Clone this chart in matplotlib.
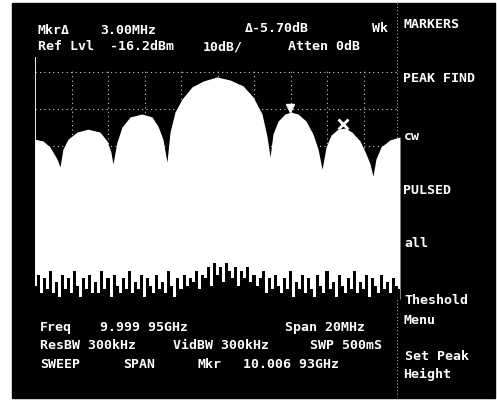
import numpy as np
import matplotlib
matplotlib.use('Agg')
import matplotlib.pyplot as plt
from matplotlib.patches import Rectangle

# Trace envelope: offset from centre (MHz) and level (dBm)
env_mhz = [-10.0, -9.56, -9.18, -8.79, -8.63,
           -8.47, -8.19, -7.70, -7.10, -6.44, -6.05, -5.84, -5.73,
           -5.51, -5.23, -4.79, -4.14, -3.59, -3.26, -2.99, -2.77,
           -2.60, -2.33, -1.95, -1.40, -0.79, -0.03, 0.68, 1.40, 1.95, 2.44, 2.71, 2.88,
           3.04, 3.32, 3.70, 4.03, 4.41, 4.85, 5.23, 5.51, 5.73,
           5.95, 6.22, 6.60, 6.99, 7.37, 7.81, 8.14, 8.36, 8.52,
           8.68, 8.96, 9.45, 10.0]
env_db = [-34.4, -34.9, -36.5, -39.8, -41.9,
          -37.1, -34.4, -32.5, -31.7, -32.5, -34.9, -37.9, -41.1,
          -35.2, -31.1, -28.4, -27.6, -28.4, -30.9, -34.4, -40.6,
          -32.5, -27.1, -23.6, -20.3, -18.7, -17.6, -18.4, -20.0, -23.0, -27.6, -33.6, -39.2,
          -33.0, -29.5, -27.6, -27.1, -27.6, -29.5, -33.0, -37.1, -42.5,
          -36.5, -33.3, -31.7, -31.4, -32.5, -34.9, -38.4, -41.1, -44.4,
          -39.8, -36.5, -34.6, -33.8]

# noise floor (bottom edge of the trace), one reading every 1/6 MHz
noise_db = [-74, -71, -76, -72, -75, -70, -76, -73, -77, -71,
            -75, -72, -76, -70, -74, -77, -72, -75, -71, -76,
            -73, -76, -70, -75, -72, -77, -71, -74, -76, -72,
            -75, -70, -76, -73, -75, -71, -77, -72, -74, -76,
            -71, -75, -73, -76, -70, -74, -77, -72, -75, -71,
            -74, -72, -73, -70, -75, -71, -72, -69, -74, -68,
            -71, -69, -73, -68, -70, -72, -69, -74, -70, -72,
            -69, -73, -71, -74, -72, -70, -76, -72, -75, -71,
            -74, -76, -72, -75, -70, -77, -73, -75, -71, -76,
            -72, -75, -77, -71, -74, -76, -70, -75, -73, -77,
            -71, -74, -76, -72, -75, -70, -76, -73, -75, -71,
            -77, -72, -74, -76, -71, -75, -73, -76, -72, -74,
            -75]
noise_mhz = np.linspace(-10, 10, len(noise_db))

# markers: reference peak and delta marker
mkr_mhz = [3.95, 6.9]
mkr_db = [-26.0, -30.4]

grid_mhz = [-8, -6, -4, -2, 0, 2, 4, 6, 8]
grid_db = [-16.2, -26.2, -36.2, -46.2, -56.2, -66.2]

W, H = 497, 402
fig = plt.figure(figsize=(W / 100, H / 100), dpi=100)
fig.patch.set_facecolor('white')

bg = fig.add_axes([0, 0, 1, 1])
bg.set_xlim(0, W)
bg.set_ylim(H, 0)
bg.axis('off')
bg.add_patch(Rectangle((12, 4), 483, 395, color='black'))
bg.plot([397, 397], [4, 398], color='#aaaaaa', lw=0.8, ls=(0, (1, 2)))

mono = dict(family='DejaVu Sans Mono', color='white', fontsize=9.5,
            fontweight='bold', va='center', ha='left')
texts = [
    (38, 30, 'Mkr\u0394'), (100, 30, '3.00MHz'),
    (245, 29, '\u0394-5.70dB'), (372, 28, 'Wk'),
    (38, 47, 'Ref Lvl'), (110, 47, '-16.2dBm'), (203, 47, '10dB/'),
    (288, 47, 'Atten 0dB'),
    (40, 328, 'Freq'), (100, 328, '9.999 95GHz'), (285, 328, 'Span 20MHz'),
    (40, 346, 'ResBW 300kHz'), (173, 346, 'VidBW 300kHz'), (310, 346, 'SWP 500mS'),
    (40, 365, 'SWEEP'), (123, 365, 'SPAN'), (197, 365, 'Mkr'), (243, 365, '10.006 93GHz'),
    (403, 24, 'MARKERS'), (403, 79, 'PEAK FIND'), (404, 137, 'cw'),
    (403, 191, 'PULSED'), (404, 244, 'all'),
    (404, 301, 'Theshold'), (403, 321, 'Menu'),
    (405, 357, 'Set Peak'), (403, 374, 'Height'),
]
for x, y, s in texts:
    bg.text(x, y, s, **mono)

ax = fig.add_axes([35 / W, 1 - 300 / H, 365 / W, 242 / H])
ax.set_xlim(-10, 10)
ax.set_ylim(-77.6, -12.2)
ax.set_facecolor('none')
ax.axis('off')

for g in grid_mhz:
    ax.axvline(g, color='#cccccc', lw=0.8, ls=(0, (1, 3)), ymax=0.95, zorder=1)
for g in grid_db:
    ax.axhline(g, color='#cccccc', lw=0.8, ls=(0, (1, 3)), zorder=1)
ax.axvline(-10, color='white', lw=1.3, zorder=1)

ax.fill_between(env_mhz, -77.6, env_db, color='white', lw=0, zorder=2)
ax.fill_between(noise_mhz, -80, noise_db, step='mid', color='black', lw=0, zorder=3)
ax.plot(mkr_mhz[:1], mkr_db[:1], 'v', color='white', ms=6, zorder=4)
ax.plot(mkr_mhz[1:], mkr_db[1:], 'x', color='white', ms=7, mew=2, zorder=4)

fig.savefig('out.png', dpi=100, facecolor='white')
